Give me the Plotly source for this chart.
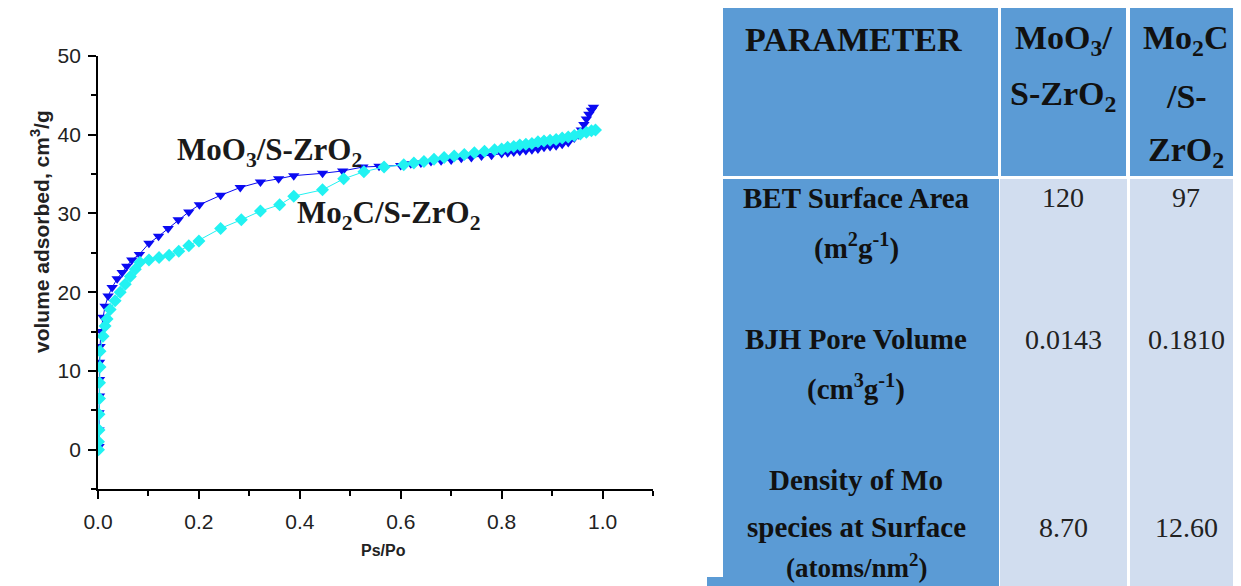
import plotly.graph_objects as go

# ---------------- data ----------------
moo3_x = [0.002, 0.002, 0.002, 0.003, 0.003, 0.003, 0.004, 0.006, 0.010, 0.014,
          0.020, 0.028, 0.038, 0.048, 0.057, 0.067, 0.082, 0.101, 0.120, 0.139,
          0.159, 0.180, 0.201, 0.243, 0.282, 0.322, 0.358, 0.388, 0.445, 0.485,
          0.525, 0.557, 0.600, 0.620, 0.640, 0.660, 0.680, 0.700, 0.720, 0.740,
          0.760, 0.780, 0.800, 0.812, 0.824, 0.836, 0.848, 0.860, 0.872, 0.884,
          0.896, 0.908, 0.920, 0.932, 0.944, 0.952, 0.958, 0.963, 0.968, 0.973,
          0.978, 0.982]
moo3_y = [0.4, 2.5, 4.7, 6.8, 8.9, 11.1, 13.1, 15.0, 16.8, 18.2,
          19.5, 20.6, 21.7, 22.5, 23.3, 24.1, 24.8, 26.2, 27.1, 28.1,
          29.2, 30.2, 31.1, 32.3, 33.3, 34.0, 34.4, 34.8, 35.1, 35.4,
          35.9, 36.0, 36.1, 36.3, 36.4, 36.6, 36.7, 36.8, 37.0, 37.1,
          37.3, 37.4, 37.6, 37.7, 37.8, 37.9, 38.0, 38.1, 38.2, 38.4,
          38.5, 38.6, 38.8, 39.0, 39.6, 40.0, 40.6, 41.3, 42.0, 42.6,
          43.1, 43.5]

mo2c_x = [0.001, 0.001, 0.002, 0.002, 0.003, 0.003, 0.004, 0.004, 0.010, 0.014,
          0.018, 0.024, 0.034, 0.044, 0.054, 0.064, 0.074, 0.083, 0.101, 0.121,
          0.141, 0.160, 0.180, 0.200, 0.243, 0.284, 0.322, 0.360, 0.388, 0.445,
          0.487, 0.527, 0.567, 0.606, 0.626, 0.646, 0.666, 0.686, 0.706, 0.726,
          0.746, 0.766, 0.786, 0.800, 0.812, 0.824, 0.836, 0.848, 0.860, 0.872,
          0.884, 0.896, 0.908, 0.920, 0.932, 0.944, 0.956, 0.968, 0.978, 0.986]
mo2c_y = [0.0, 1.0, 2.5, 4.5, 6.5, 8.5, 10.5, 12.5, 14.4, 15.7,
          16.6, 17.8, 18.9, 20.0, 21.0, 22.0, 22.9, 23.8, 24.1, 24.4,
          24.7, 25.2, 25.9, 26.5, 28.1, 29.2, 30.3, 31.1, 32.2, 33.0,
          34.4, 35.3, 35.9, 36.2, 36.4, 36.6, 36.9, 37.1, 37.3, 37.5,
          37.7, 37.9, 38.1, 38.2, 38.4, 38.5, 38.7, 38.8, 38.9, 39.1,
          39.2, 39.3, 39.4, 39.6, 39.7, 39.9, 40.1, 40.3, 40.5, 40.6]

x_tick_vals = [0.0, 0.2, 0.4, 0.6, 0.8, 1.0]
x_tick_text = ["0.0", "0.2", "0.4", "0.6", "0.8", "1.0"]
y_tick_vals = [0, 10, 20, 30, 40, 50]
y_tick_text = ["0", "10", "20", "30", "40", "50"]

series_labels = ["MoO<sub>3</sub>/S-ZrO<sub>2</sub>", "Mo<sub>2</sub>C/S-ZrO<sub>2</sub>"]

header_param = ["PARAMETER"]
header_moo3 = ["MoO<sub>3</sub>/", "S-ZrO<sub>2</sub>"]
header_mo2c = ["Mo<sub>2</sub>C", "/S-", "ZrO<sub>2</sub>"]

param_lines = [["BET Surface Area", "(m<sup>2</sup>g<sup>-1</sup>)"],
               ["BJH Pore Volume", "(cm<sup>3</sup>g<sup>-1</sup>)"],
               ["Density of Mo", "species at Surface", "(atoms/nm<sup>2</sup>)"]]
moo3_values = ["120", "0.0143", "8.70"]
mo2c_values = ["97", "0.1810", "12.60"]

# ---------------- page geometry ----------------
PAGE_W, PAGE_H = 1241, 586
OFF = 8                       # default body margin of the html page
W, H = PAGE_W - OFF, PAGE_H - OFF   # figure reaches the right and bottom window edges

def px(x):
    return (x - OFF) / W

def py(y):
    return 1 - (y - OFF) / H

BLUE = "#0A0AF2"
CYAN = "#22F2F2"
TBL_DARK = "#5B9BD5"
TBL_LIGHT = "#D1DDEF"

fig = go.Figure()
fig.add_trace(go.Scatter(x=moo3_x, y=moo3_y, mode="lines+markers",
                         line=dict(color=BLUE, width=1),
                         marker=dict(symbol="triangle-down", size=10, color=BLUE),
                         showlegend=False))
fig.add_trace(go.Scatter(x=mo2c_x, y=mo2c_y, mode="lines+markers",
                         line=dict(color=CYAN, width=1),
                         marker=dict(symbol="diamond", size=10, color=CYAN),
                         showlegend=False))

sans = "Liberation Sans, Arial, sans-serif"
serif = "Liberation Serif, Times New Roman, serif"
axis_font = dict(family=sans, size=21, color="#222222")
fig.update_layout(
    template="none",
    width=W, height=H, autosize=False,
    margin=dict(l=0, r=0, t=0, b=0, pad=0),
    paper_bgcolor="white", plot_bgcolor="white",
    xaxis=dict(domain=[px(98), px(653)], range=[0, 1.1], automargin=False,
               tickmode="array", tickvals=x_tick_vals, ticktext=x_tick_text,
               ticks="outside", ticklen=8, tickwidth=1.5, tickcolor="black",
               ticklabelstandoff=5,
               showline=True, linecolor="black", linewidth=1.8, mirror=False,
               showgrid=False, zeroline=False, tickfont=axis_font,
               minor=dict(tickmode="linear", tick0=0, dtick=0.1, ticks="outside",
                          ticklen=5, tickwidth=1.5, tickcolor="black", showgrid=False),
               anchor="y"),
    yaxis=dict(domain=[py(489), py(56)], range=[-5, 50], automargin=False,
               tickmode="array", tickvals=y_tick_vals, ticktext=y_tick_text,
               ticks="outside", ticklen=8, tickwidth=1.5, tickcolor="black",
               ticklabelstandoff=3,
               showline=True, linecolor="black", linewidth=1.8, mirror=False,
               showgrid=False, zeroline=False, tickfont=axis_font,
               minor=dict(tickmode="linear", tick0=-5, dtick=5, ticks="outside",
                          ticklen=5, tickwidth=1.5, tickcolor="black", showgrid=False),
               anchor="x"),
)

ann = []

def txt(x, y, s, font, xanchor="center", yanchor="middle", angle=0):
    ann.append(dict(x=px(x), y=py(y), xref="paper", yref="paper", showarrow=False,
                    xanchor=xanchor, yanchor=yanchor, textangle=angle, text=s, font=font))

# axis titles
txt(383, 550, "<b>Ps/Po</b>", dict(family=sans, size=16, color="#222222"))
txt(40, 232, "<b>volume adsorbed, cm<sup>3</sup>/g</b>",
    dict(family=sans, size=21, color="#222222"), angle=-90)
# series labels
lab_font = dict(family=serif, size=31, color="#1a1a1a")
txt(175, 152, "<b>" + series_labels[0] + "</b>", lab_font, xanchor="left")
txt(295, 215, "<b>" + series_labels[1] + "</b>", lab_font, xanchor="left")

# ---------------- table ----------------
shapes = []
def rect(x0, y0, x1, y1, color):
    shapes.append(dict(type="rect", xref="paper", yref="paper", x0=px(x0), x1=px(x1),
                       y0=py(y1), y1=py(y0), fillcolor=color, line=dict(width=0), layer="below"))

col_c = [856, 1063, 1186]
rect(723, 8, 998, 176, TBL_DARK)
rect(1001, 8, 1126, 176, TBL_DARK)
rect(1130, 8, 1241, 176, TBL_DARK)
rect(723, 179, 999, 586, TBL_DARK)
rect(1000, 179, 1127, 586, TBL_LIGHT)
rect(1130, 179, 1241, 586, TBL_LIGHT)
rect(707, 577, 723, 586, TBL_DARK)

hdr_font = dict(family=serif, size=34, color="#111111")
body_b = dict(family=serif, size=29, color="#111111")
body_r = dict(family=serif, size=28, color="#222222")
last_font = dict(family=serif, size=27, color="#111111")

header_line_y = [40, 96, 152]
txt(853, header_line_y[0], "<b>" + header_param[0] + "</b>", hdr_font)
for i, s in enumerate(header_moo3):
    txt(col_c[1], header_line_y[i], "<b>" + s + "</b>", hdr_font)
for i, s in enumerate(header_mo2c):
    txt(col_c[2], header_line_y[i], "<b>" + s + "</b>", hdr_font)

row_line_y = [[198, 246], [339, 387], [480, 527, 566]]
value_y = [198, 339, 527]
for r, lines in enumerate(param_lines):
    for j, s in enumerate(lines):
        f = last_font if (r == 2 and j == 2) else body_b
        txt(col_c[0], row_line_y[r][j], "<b>" + s + "</b>", f)
    txt(col_c[1], value_y[r], moo3_values[r], body_r)
    txt(col_c[2], value_y[r], mo2c_values[r], body_r)

fig.update_layout(annotations=ann, shapes=shapes)
fig.write_html("out.html")
